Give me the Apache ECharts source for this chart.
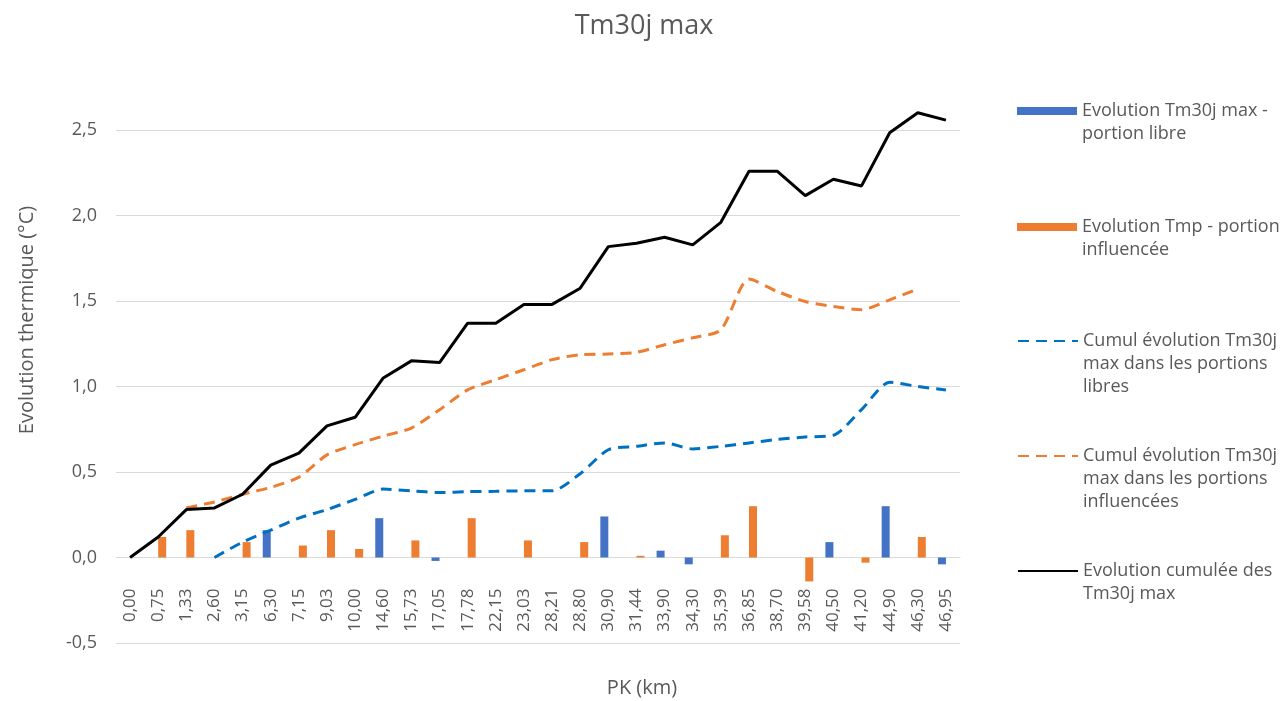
<!DOCTYPE html>
<html>
<head>
<meta charset="utf-8">
<title>Tm30j max</title>
<script src="https://cdn.jsdelivr.net/npm/echarts@6/dist/echarts.min.js"></script>
<style>
  html, body { margin: 0; padding: 0; background: #ffffff; }
  #chart { width: 1288px; height: 701px; }
</style>
</head>
<body>
<div id="chart"></div>
<script>
// PK (km) along the river
const categories = ['0,00', '0,75', '1,33', '2,60', '3,15', '6,30', '7,15', '9,03', '10,00', '14,60',
  '15,73', '17,05', '17,78', '22,15', '23,03', '28,21', '28,80', '30,90', '31,44', '33,90',
  '34,30', '35,39', '36,85', '38,70', '39,58', '40,50', '41,20', '44,90', '46,30', '46,95'];

// Local change of Tm30j max in free-flowing reaches (°C)
const evolLibre = [null, null, null, null, null, 0.16, null, null, null, 0.23,
  null, -0.02, null, null, null, null, null, 0.24, null, 0.04,
  -0.04, null, null, null, null, 0.09, null, 0.30, null, -0.04];

// Local change of Tmp in influenced reaches (°C)
const evolInfluencee = [null, 0.12, 0.16, null, 0.09, null, 0.07, 0.16, 0.05, null,
  0.10, null, 0.23, null, 0.10, null, 0.09, null, 0.01, null,
  null, 0.13, 0.30, null, -0.14, null, -0.03, null, 0.12, null];

// Cumulative change in free-flowing reaches
const cumulLibres = [null, null, null, 0.00, 0.09, 0.16, 0.23, 0.28, 0.34, 0.40,
  0.39, 0.38, 0.385, 0.387, 0.39, 0.39, 0.49, 0.63, 0.65, 0.67,
  0.635, 0.65, 0.67, 0.69, 0.705, 0.715, 0.865, 1.025, 1.00, 0.98];

// Cumulative change in influenced reaches
const cumulInfluencees = [null, null, 0.29, 0.325, 0.37, 0.41, 0.47, 0.60, 0.66, 0.71,
  0.757, 0.864, 0.98, 1.04, 1.098, 1.157, 1.186, 1.19, 1.20, 1.244,
  1.285, 1.332, 1.628, 1.556, 1.497, 1.468, 1.449, 1.507, 1.57, null];

// Overall cumulative change of Tm30j max
const cumulTotal = [0.00, 0.12, 0.28, 0.29, 0.37, 0.54, 0.61, 0.77, 0.82, 1.05,
  1.15, 1.14, 1.37, 1.37, 1.48, 1.48, 1.575, 1.818, 1.838, 1.873,
  1.828, 1.96, 2.259, 2.259, 2.116, 2.212, 2.173, 2.484, 2.601, 2.558];

// Y-axis ticks
const yTicks = { min: -0.5, max: 2.5, step: 0.5 };

const seriesNames = [
  'Evolution Tm30j max - portion libre',
  'Evolution Tmp - portion influencée',
  'Cumul évolution Tm30j max dans les portions libres',
  'Cumul évolution Tm30j max dans les portions influencées',
  'Evolution cumulée des Tm30j max'
];
// Legend text, wrapped as on the chart
const legendLines = [
  ['Evolution Tm30j max -', 'portion libre'],
  ['Evolution Tmp - portion', 'influencée'],
  ['Cumul évolution Tm30j', 'max dans les portions', 'libres'],
  ['Cumul évolution Tm30j', 'max dans les portions', 'influencées'],
  ['Evolution cumulée des', 'Tm30j max']
];

const FONT = 'Open Sans';
const GREY = '#595959';
const LINE_H = 23;
const legendCenters = [111, 227, 341, 456, 571];

// Plot box
const GRID = { left: 116, right: 328, top: 130, bottom: 58 };
const plotHeight = 701 - GRID.top - GRID.bottom;
// Category labels hang from the zero line: shift the x axis up from the plot bottom
const zeroOffset = -plotHeight * (0 - yTicks.min) / (yTicks.max - yTicks.min);

// One legend block per series; blank lines are prepended so the icon sits on the first text line
const legends = seriesNames.map(function (name, i) {
  const lines = legendLines[i];
  const padded = new Array(lines.length - 1).fill('').concat(lines);
  const h = padded.length * LINE_H;
  const lg = {
    data: [name],
    orient: 'vertical',
    left: 1017,
    top: legendCenters[i] - h / 2,
    padding: 0,
    itemWidth: 60,
    itemHeight: 8,
    itemGap: 0,
    selectedMode: false,
    formatter: function () { return padded.join('\n'); },
    textStyle: { fontFamily: FONT, fontSize: 18, color: GREY, lineHeight: LINE_H, padding: [0, 0, 0, 0] }
  };
  if (i < 2) {
    lg.icon = 'rect';
  } else {
    // plain line sample, no marker in the middle
    lg.itemStyle = { color: 'rgba(0,0,0,0)', borderWidth: 0, opacity: 0 };
  }
  return lg;
});

const chart = echarts.init(document.getElementById('chart'), null, { renderer: 'canvas' });

chart.setOption({
  backgroundColor: '#ffffff',
  animation: false,
  textStyle: { fontFamily: FONT },
  title: {
    text: 'Tm30j max',
    left: 'center',
    top: 8,
    textStyle: { fontFamily: FONT, fontSize: 27, fontWeight: 'normal', color: GREY }
  },
  legend: legends,
  grid: { left: GRID.left, right: GRID.right, top: GRID.top, bottom: GRID.bottom, containLabel: false, outerBoundsMode: 'none' },
  xAxis: {
    type: 'category',
    data: categories,
    boundaryGap: true,
    offset: zeroOffset,
    axisLine: { onZero: false, lineStyle: { color: '#d9d9d9', width: 1 } },
    axisTick: { show: false },
    axisLabel: { rotate: 90, margin: 31, interval: 0, fontFamily: FONT, fontSize: 17, color: GREY },
    splitLine: { show: false }
  },
  yAxis: {
    type: 'value',
    min: yTicks.min,
    max: yTicks.max,
    interval: yTicks.step,
    axisLine: { show: false },
    axisTick: { show: false },
    axisLabel: {
      margin: 19,
      fontFamily: FONT,
      fontSize: 18,
      color: GREY,
      formatter: function (v) { return v.toFixed(1).replace('.', ','); }
    },
    splitLine: { lineStyle: { color: '#d9d9d9', width: 1 } }
  },
  graphic: [
    {
      type: 'text',
      x: 27,
      y: 320,
      rotation: Math.PI / 2,
      style: {
        text: 'Evolution thermique (°C)',
        fontFamily: FONT, fontSize: 20, fill: GREY,
        textAlign: 'center', textVerticalAlign: 'middle'
      }
    },
    {
      type: 'text',
      x: 642,
      y: 688,
      style: {
        text: 'PK (km)',
        fontFamily: FONT, fontSize: 20, fill: GREY,
        textAlign: 'center', textVerticalAlign: 'middle'
      }
    }
  ],
  series: [
    {
      name: seriesNames[0],
      type: 'bar',
      data: evolLibre,
      barWidth: 8,
      barGap: '0%',
      itemStyle: { color: '#4472C4' }
    },
    {
      name: seriesNames[1],
      type: 'bar',
      data: evolInfluencee,
      barWidth: 8,
      barGap: '0%',
      itemStyle: { color: '#ED7D31' }
    },
    {
      name: seriesNames[2],
      type: 'line',
      data: cumulLibres,
      smooth: 0.25,
      symbol: 'none',
      clip: false,
      lineStyle: { color: '#0070C0', width: 3, type: [11, 7], cap: 'butt' },
      itemStyle: { color: '#0070C0' }
    },
    {
      name: seriesNames[3],
      type: 'line',
      data: cumulInfluencees,
      smooth: 0.25,
      symbol: 'none',
      clip: false,
      lineStyle: { color: '#ED7D31', width: 3, type: [11, 7], cap: 'butt' },
      itemStyle: { color: '#ED7D31' }
    },
    {
      name: seriesNames[4],
      type: 'line',
      data: cumulTotal,
      symbol: 'none',
      clip: false,
      lineStyle: { color: '#000000', width: 3 },
      itemStyle: { color: '#000000' }
    }
  ]
});
</script>
</body>
</html>
